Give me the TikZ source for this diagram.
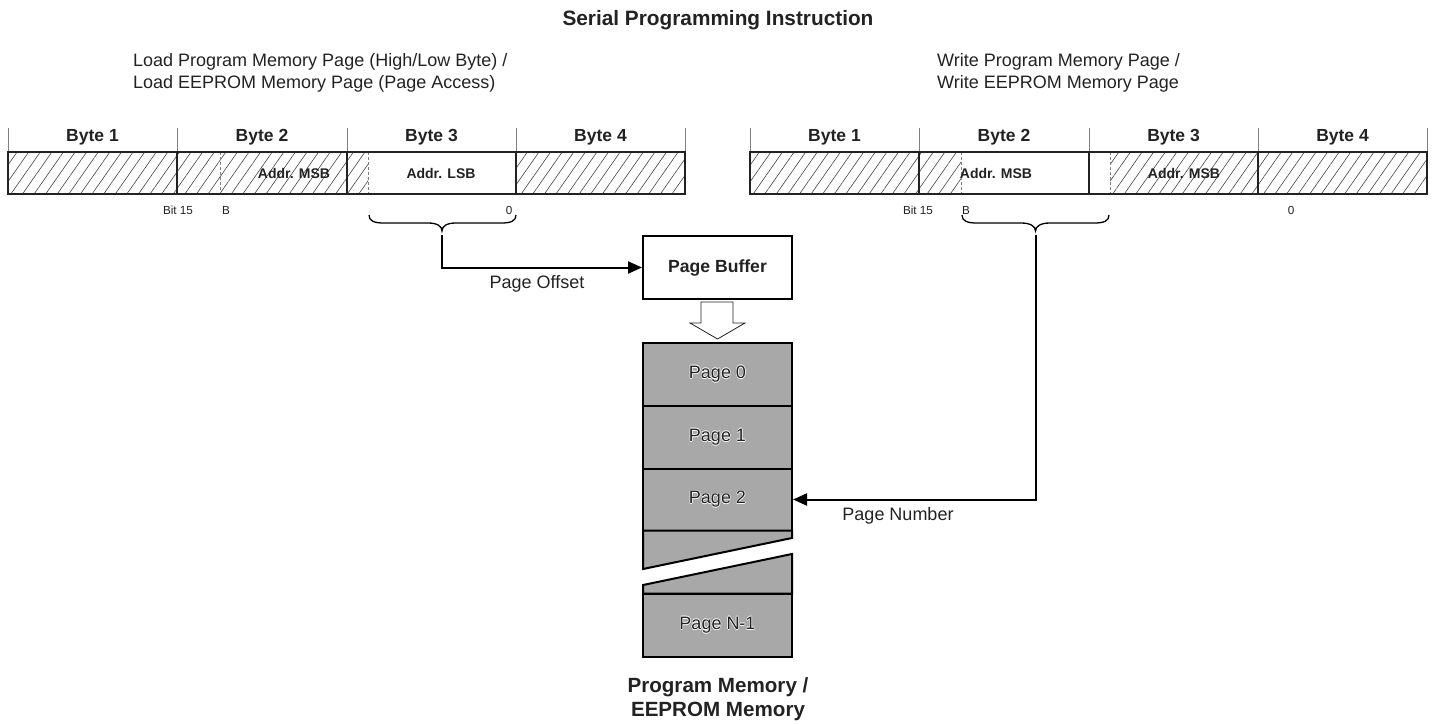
\documentclass[tikz,border=0pt]{standalone}
\usepackage{fontspec}
\setmainfont{Liberation Sans}
\usetikzlibrary{arrows.meta,patterns.meta}
\definecolor{memgray}{HTML}{A8A8A8}
\definecolor{txt}{HTML}{222222}
\definecolor{hatchc}{HTML}{444444}
\newcommand{\halotxt}[1]{%
  \makebox[0pt][l]{\color{white}\hspace{-0.7pt}#1}%
  \makebox[0pt][l]{\color{white}\hspace{0.7pt}#1}%
  \makebox[0pt][l]{\color{white}\raisebox{0.7pt}{#1}}%
  \makebox[0pt][l]{\color{white}\raisebox{-0.7pt}{#1}}%
  {\color{txt}#1}}
\begin{document}
\begin{tikzpicture}[x=1pt,y=-1pt,
  hatch/.style={pattern={Lines[angle=55,distance=9.5pt,line width=0.6pt]},pattern color=hatchc},
  byteline/.style={line width=2.4pt,draw=txt},
  tickline/.style={draw=gray,line width=0.8pt},
  dashline/.style={draw=gray,line width=0.8pt,dash pattern=on 3pt off 2pt},
  arr/.style={line width=2pt,draw=black,-{Triangle[length=14pt,width=12pt]}},
  bytelab/.style={font=\fontsize{17.5}{20}\selectfont\bfseries,text=txt,inner sep=0pt},
  addrlab/.style={font=\fontsize{14}{16}\selectfont\bfseries,text=txt,inner sep=0pt},
  bitlab/.style={font=\fontsize{11.7}{13}\selectfont,text=txt,inner sep=0pt},
  reglab/.style={font=\fontsize{18}{22}\selectfont,text=txt,inner sep=0pt},
  page/.style={draw=black,line width=2pt,fill=memgray,minimum width=149pt,inner sep=0pt,
     font=\fontsize{18}{20}\selectfont},
  bracestyle/.style={line width=1.3pt,draw=black}
]
\useasboundingbox (0,0) rectangle (1435,723);

% titles
\node[font=\fontsize{20.8}{24}\selectfont\bfseries,text=txt,anchor=base] (title) at (718,25) {Serial Programming Instruction};
\node[reglab,anchor=base west] (lcap1) at (133,66) {Load Program Memory Page (High/Low Byte) /};
\node[reglab,anchor=base west] (lcap2) at (133,88) {Load EEPROM Memory Page (Page Access)};
\node[reglab,anchor=base west] (rcap1) at (937,66) {Write Program Memory Page /};
\node[reglab,anchor=base west] (rcap2) at (937,88) {Write EEPROM Memory Page};

% ---------------- left byte row
\fill[hatch] (8,152) rectangle (177,194);
\fill[hatch] (177,152) rectangle (347,194);
\fill[hatch] (347,152) rectangle (368,194);
\fill[hatch] (516,152) rectangle (685,194);
\foreach \x in {8,177,347,516,685} \draw[tickline] (\x,128) -- (\x,152);
\draw[dashline] (220,152) -- (220,194);
\draw[dashline] (368,152) -- (368,194);
\draw[byteline] (8,152) rectangle (685,194);
\foreach \x in {177,347,516} \draw[byteline] (\x,152) -- (\x,194);
\node[bytelab] (lb1) at (92.5,137) {Byte 1};
\node[bytelab] (lb2) at (262,137) {Byte 2};
\node[bytelab] (lb3) at (431.5,137) {Byte 3};
\node[bytelab] (lb4) at (600.5,137) {Byte 4};
\node[addrlab] (lmsb) at (294,173) {Addr. MSB};
\node[addrlab] (llsb) at (441,173) {Addr. LSB};
\node[bitlab] (lbit15) at (178,210) {Bit 15};
\node[bitlab] (lbitb) at (226,210) {B};
\node[bitlab] (lbit0) at (509,210) {0};

% ---------------- right byte row
\fill[hatch] (750,152) rectangle (919,194);
\fill[hatch] (919,152) rectangle (961,194);
\fill[hatch] (1110,152) rectangle (1258,194);
\fill[hatch] (1258,152) rectangle (1427,194);
\foreach \x in {750,919,1089,1258,1427} \draw[tickline] (\x,128) -- (\x,152);
\draw[dashline] (961,152) -- (961,194);
\draw[dashline] (1110,152) -- (1110,194);
\draw[byteline] (750,152) rectangle (1427,194);
\foreach \x in {919,1089,1258} \draw[byteline] (\x,152) -- (\x,194);
\node[bytelab] (rb1) at (834.5,137) {Byte 1};
\node[bytelab] (rb2) at (1004,137) {Byte 2};
\node[bytelab] (rb3) at (1173.5,137) {Byte 3};
\node[bytelab] (rb4) at (1342.5,137) {Byte 4};
\node[addrlab] (rmsb1) at (996,173) {Addr. MSB};
\node[addrlab] (rmsb2) at (1184,173) {Addr. MSB};
\node[bitlab] (rbit15) at (918,210) {Bit 15};
\node[bitlab] (rbitb) at (966,210) {B};
\node[bitlab] (rbit0) at (1291,210) {0};

% ---------------- braces
\draw[bracestyle] (369,215) .. controls (369,221) and (374,223) .. (384,223) -- (428,223)
  .. controls (437,223) and (442,226) .. (442,231)
  .. controls (442,226) and (447,223) .. (456,223) -- (501,223)
  .. controls (511,223) and (516,221) .. (516,215);
\coordinate (ltip) at (442,235);
\draw[bracestyle] (962,215) .. controls (962,221) and (967,223) .. (977,223) -- (1021,223)
  .. controls (1030,223) and (1035.5,226) .. (1035.5,231)
  .. controls (1035.5,226) and (1041,223) .. (1050,223) -- (1094,223)
  .. controls (1104,223) and (1109,221) .. (1109,215);
\coordinate (rtip) at (1035.5,235);

% ---------------- page buffer
\node[draw=black,line width=2pt,fill=white,minimum width=149pt,minimum height=63pt,inner sep=0pt,
  font=\fontsize{17.6}{20}\selectfont\bfseries,text=txt] (pb) at (717.5,267.5) {Page Buffer};
\draw[arr] (ltip) |- (pb.west);
\node[reglab] (poff) at (537,284) {Page Offset};

% block arrow
\draw[line width=0.8pt,draw=txt,fill=white] (701,302) -- (733,302) -- (733,323) -- (745,323)
  -- (717.5,339) -- (690,323) -- (701,323) -- cycle;

% ---------------- memory
\node[page,minimum height=63pt] (p0) at (717.5,374) {\halotxt{Page 0}};
\node[page,minimum height=63pt] (p1) at (717.5,437) {\halotxt{Page 1}};
\node[page,minimum height=62pt] (p2) at (717.5,499.5) {\halotxt{Page 2}};
\draw[line width=2pt,fill=memgray] (643,530.5) -- (792,530.5) -- (792,538) -- (643,569) -- cycle;
\draw[line width=2pt,fill=memgray] (643,585) -- (792,554) -- (792,593.5) -- (643,593.5) -- cycle;
\node[page,minimum height=63.5pt] (pn) at (717.5,625.25) {\halotxt{Page N-1}};

\draw[arr] (rtip) |- (p2.east);
\node[reglab] (pnum) at (898,516) {Page Number};

\node[font=\fontsize{20.6}{24}\selectfont\bfseries,text=txt,align=center] (mem) at (718,699)
  {Program Memory /\\EEPROM Memory};
\end{tikzpicture}
\end{document}
